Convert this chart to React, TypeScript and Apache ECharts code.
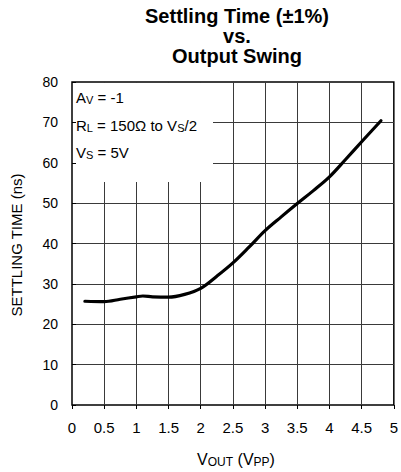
import React, { useEffect, useRef } from "react";
import * as echarts from "echarts";

const titleLines = ["Settling Time (±1%)", "vs.", "Output Swing"];
const conditionLines = [
  "{n|A}{s|V}{n| = -1}",
  "{n|R}{s|L}{n| = 150Ω to V}{s|S}{n|/2}",
  "{n|V}{s|S}{n| = 5V}",
];
const xAxisTitle = "{n|V}{s|OUT}{n| (V}{s|PP}{n|)}";
const yAxisTitle = "SETTLING TIME (ns)";

const outputSwing = [0.2, 0.5, 0.75, 1.0, 1.1, 1.25, 1.5, 1.75, 2.0, 2.25, 2.5, 2.75, 3.0, 3.25, 3.5, 3.75, 4.0, 4.25, 4.5, 4.8];
const settlingTime = [25.7, 25.6, 26.2, 26.8, 27.0, 26.8, 26.7, 27.4, 28.9, 31.9, 35.2, 39.1, 43.2, 46.6, 49.9, 53.1, 56.5, 60.8, 65.2, 70.4];

const FONT = "'Liberation Sans', Arial, Helvetica, sans-serif";

const richSub = (size: number, sub: number, lh: number) => ({
  n: { fontSize: size, lineHeight: lh, fontFamily: FONT, color: "#000" },
  s: {
    fontSize: sub,
    lineHeight: sub,
    padding: [lh - sub - 1, 0, 1, 0],
    fontFamily: FONT,
    color: "#000",
  },
});

export default function App() {
  const ref = useRef<HTMLDivElement>(null);
  useEffect(() => {
    if (!ref.current) return;
    const chart = echarts.init(ref.current, null, { renderer: "svg" });
    const gridLine = { show: true, lineStyle: { color: "#3a3a3a", width: 1 }, showMinLine: false, showMaxLine: false };
    chart.setOption({
      animation: false,
      backgroundColor: "#fff",
      grid: {
        left: 72,
        right: 6,
        top: 82,
        bottom: 67,
        show: true,
        borderColor: "#000",
        borderWidth: 1.5,
        backgroundColor: "transparent",
      },
      xAxis: [
        {
          type: "value",
          min: 0,
          max: 5,
          interval: 0.5,
          position: "bottom",
          z: 0,
          axisLine: { show: false },
          axisTick: { show: false },
          axisLabel: { fontSize: 15, color: "#000", fontFamily: FONT, margin: 15 },
          splitLine: gridLine,
        },
        {
          type: "value",
          min: 0,
          max: 5,
          interval: 0.5,
          position: "top",
          z: 5,
          axisLine: { show: false },
          axisTick: { show: true, inside: true, length: 4, lineStyle: { color: "#000", width: 1 } },
          axisLabel: { show: false },
          splitLine: { show: false },
        },
      ],
      yAxis: [
        {
          type: "value",
          min: 0,
          max: 80,
          interval: 10,
          position: "left",
          z: 0,
          axisLine: { show: false },
          axisTick: { show: false },
          axisLabel: { fontSize: 14, color: "#000", fontFamily: FONT, margin: 14 },
          splitLine: gridLine,
        },
        {
          type: "value",
          min: 0,
          max: 80,
          interval: 10,
          position: "left",
          z: 5,
          axisLine: { show: false },
          axisTick: { show: true, inside: true, length: 4, lineStyle: { color: "#000", width: 1 } },
          axisLabel: { show: false },
          splitLine: { show: false },
        },
      ],
      series: [
        {
          type: "line",
          xAxisIndex: 0,
          yAxisIndex: 0,
          data: outputSwing.map((x, i) => [x, settlingTime[i]]),
          smooth: 0.35,
          showSymbol: false,
          symbol: "none",
          z: 3,
          lineStyle: { color: "#000", width: 3.2, join: "round", cap: "round" },
        },
      ],
      graphic: [
        {
          type: "rect",
          z: 1,
          shape: { x: 73, y: 83, width: 140, height: 99 },
          style: { fill: "#fff" },
          silent: true,
        },
        {
          type: "text",
          z: 6,
          x: 237,
          y: 36,
          style: {
            text: titleLines.join("\n"),
            fontSize: 20,
            lineHeight: 20,
            fontWeight: "bold",
            fontFamily: FONT,
            fill: "#000",
            align: "center",
            verticalAlign: "middle",
          },
        },
        ...conditionLines.map((t, i) => ({
          type: "text",
          z: 6,
          x: 76,
          y: [97, 125, 152][i],
          style: {
            text: t,
            align: "left",
            verticalAlign: "middle",
            rich: richSub(15, 11, 18),
          },
        })),
        {
          type: "text",
          z: 6,
          x: 236,
          y: 459,
          style: {
            text: xAxisTitle,
            align: "center",
            verticalAlign: "middle",
            rich: richSub(16, 12, 20),
          },
        },
        {
          type: "text",
          z: 6,
          x: 16,
          y: 245,
          rotation: Math.PI / 2,
          style: {
            text: yAxisTitle,
            fontSize: 15,
            fontFamily: FONT,
            fill: "#000",
            align: "center",
            verticalAlign: "middle",
          },
        },
      ],
    });
    return () => chart.dispose();
  }, []);
  return (
    <div
      ref={ref}
      style={{ position: "fixed", left: 0, top: 0, width: 401, height: 472 }}
    />
  );
}
